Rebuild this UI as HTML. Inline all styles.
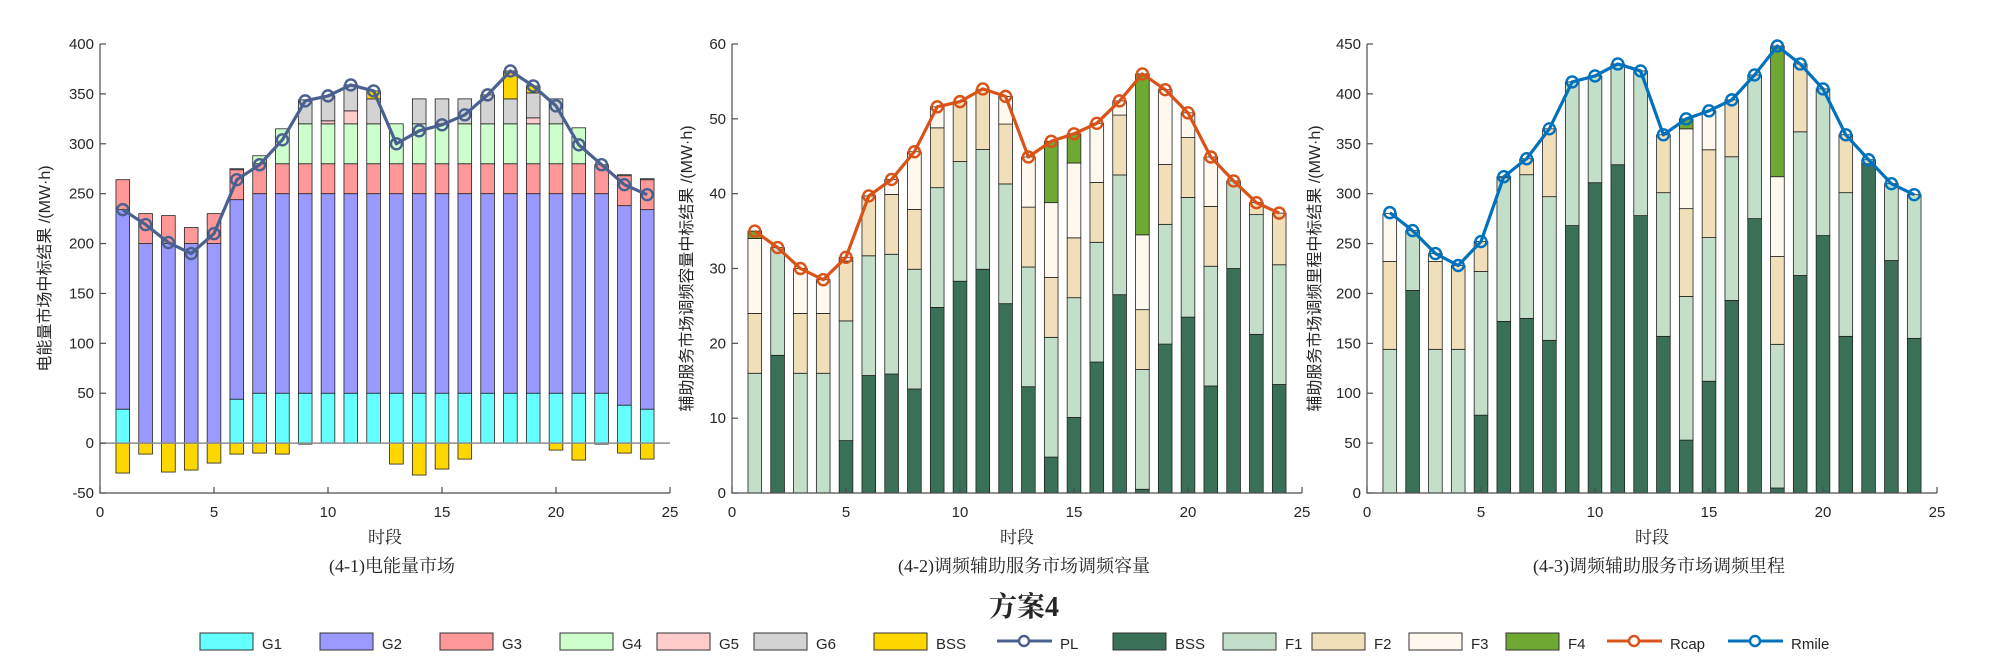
<!DOCTYPE html>
<html><head><meta charset="utf-8">
<style>
html,body{margin:0;padding:0;background:#fff;}
svg{display:block;}
.tk{font-family:"Liberation Sans","Noto Sans CJK SC",sans-serif;font-size:15px;fill:#262626;}
.yt{font-family:"Liberation Sans","Noto Sans CJK SC",sans-serif;font-size:16px;fill:#262626;}
.sr{font-family:"Liberation Serif","Noto Serif CJK SC",serif;fill:#262626;}
</style></head>
<body>
<svg id="fig" width="2008" height="657" viewBox="0 0 2008 657" xmlns="http://www.w3.org/2000/svg">
<text class="sr" x="1024" y="616" font-size="28" font-weight="bold" text-anchor="middle" fill="#000">方案4</text>
</svg>
<script>
// ---- Chart 1 data: energy market ----
const periods = [1,2,3,4,5,6,7,8,9,10,11,12,13,14,15,16,17,18,19,20,21,22,23,24];
const e_G1 = [34,0,0,0,0,44,50,50,50,50,50,50,50,50,50,50,50,50,50,50,50,50,38,34];
const e_G2 = [200,200,200,200,200,200,200,200,200,200,200,200,200,200,200,200,200,200,200,200,200,200,200,200];
const e_G3 = [30,30,28,16,30,30,30,30,30,30,30,30,30,30,30,30,30,30,30,30,30,29,30,30];
const e_G4 = [0,0,0,0,0,0,8,35,40,40,40,40,40,40,40,40,40,40,40,40,36,0,0,0];
const e_G5 = [0,0,0,0,0,0,0,0,0,3,13,0,0,0,0,0,0,0,6,0,0,0,0,0];
const e_G6 = [0,0,0,0,0,1,0,0,24,25,26,25,0,25,25,25,29,25,25,25,0,0,1,1];
const e_BSS = [-30,-11,-29,-27,-20,-11,-10,-11,-1,0,0,8,-21,-32,-26,-16,0,28,7,-7,-17,-1,-10,-16];
const e_PL = [234,219,201,190,210,264,279,304,343,348,359,353,300,313,319,329,349,373,358,338,299,279,259,249];
const e_yTicks = [-50,0,50,100,150,200,250,300,350,400];
// ---- Chart 2 data: regulation capacity ----
const c_BSS = [0,18.4,0,0,7,15.7,15.9,13.9,24.8,28.3,29.9,25.3,14.2,4.8,10.1,17.5,26.5,0.5,19.9,23.5,14.3,30,21.2,14.5];
const c_F1 = [16,14.4,16,16,16,16,16,16,16,16,16,16,16,16,16,16,16,16,16,16,16,11.7,16,16];
const c_F2 = [8,0,8,8,8,8,8,8,8,8,8,8,8,8,8,8,8,8,8,8,8,0,1.6,6.9];
const c_F3 = [10,0,6,4.5,0.5,0,2,7.7,2.8,0,0,3.7,6.7,10,10,7.9,1.9,10,10,3.3,6.6,0,0,0];
const c_F4 = [1,0,0,0,0,0,0,0,0,0,0,0,0,8.2,3.9,0,0,21.5,0,0,0,0,0,0];
const c_Rcap = [35,32.8,30,28.5,31.5,39.7,41.9,45.6,51.6,52.3,54,53,44.9,47,48,49.4,52.4,56,53.9,50.8,44.9,41.7,38.8,37.4];
const c_yTicks = [0,10,20,30,40,50,60];
// ---- Chart 3 data: regulation mileage ----
const m_BSS = [0,203,0,0,78,172,175,153,268,311,329,278,157,53,112,193,275,5,218,258,157,330,233,155];
const m_F1 = [144,60,144,144,144,144,144,144,144,107,101,145,144,144,144,144,144,144,144,147,144,4,77,144];
const m_F2 = [88,0,88,84,30,1,16,68,0,0,0,0,58,88,88,57,0,88,68,0,58,0,0,0];
const m_F3 = [48,0,8,0,0,0,0,0,0,0,0,0,0,80,39,0,0,80,0,0,0,0,0,0];
const m_F4 = [0,0,0,0,0,0,0,0,0,0,0,0,0,10,0,0,0,131,0,0,0,0,0,0];
const m_Rmile = [281,263,240,228,252,317,335,365,412,418,430,423,359,375,383,394,419,448,430,405,359,334,310,299];
const m_yTicks = [0,50,100,150,200,250,300,350,400,450];
const xTicks = [0,5,10,15,20,25];

const NS = "http://www.w3.org/2000/svg";
const svg = document.getElementById('fig');
function mk(tag, attrs, parent){const e=document.createElementNS(NS,tag);for(const k in attrs)e.setAttribute(k,attrs[k]);(parent||svg).appendChild(e);return e;}

const TOP=44, BOT=493, W=570;
function chart(cfg){
  const g = mk('g',{});
  
  
  const xs = v => cfg.x0 + v/25*W;
  const ys = v => BOT - (v-cfg.ymin)/(cfg.ymax-cfg.ymin)*(BOT-TOP);
  const bw = 0.6*W/25;
  // stacked bars
  periods.forEach((p,i)=>{
    let pos=0, neg=0;
    cfg.series.forEach(s=>{
      const v=s.data[i]; if(!v) return;
      let a,b;
      if(v>=0){a=pos;b=pos+v;pos=b;} else {a=neg;b=neg+v;neg=b;}
      const r = mk('rect',{x:xs(p)-bw/2,y:ys(Math.max(a,b)),width:bw,height:Math.abs(ys(a)-ys(b)),fill:s.color,stroke:'#222','stroke-width':0.8},g);
      
      
    });
  });
  // zero line for chart with negative values
  if(cfg.ymin<0){
    const zl = mk('line',{x1:cfg.x0,x2:cfg.x0+W,y1:ys(0),y2:ys(0),stroke:'#8c8c8c','stroke-width':1.5},g);
    
    
  }
  // axes
  const ax = mk('path',{d:`M${cfg.x0},${TOP} V${BOT} H${cfg.x0+W}`,stroke:'#4d4d4d','stroke-width':1.2,fill:'none'},g);
  
  
  cfg.yTicks.forEach(t=>{
    mk('line',{x1:cfg.x0,x2:cfg.x0+6,y1:ys(t),y2:ys(t),stroke:'#4d4d4d','stroke-width':1.2},g);
    const tx = mk('text',{x:cfg.x0-6,y:ys(t)+5,'text-anchor':'end',class:'tk'},g);
    tx.textContent=t;
    
    
  });
  xTicks.forEach(t=>{
    mk('line',{x1:xs(t),x2:xs(t),y1:BOT,y2:BOT-6,stroke:'#4d4d4d','stroke-width':1.2},g);
    const tx = mk('text',{x:xs(t),y:BOT+24,'text-anchor':'middle',class:'tk'},g);
    tx.textContent=t;
    
    
  });
  // line
  const pts = periods.map((p,i)=>xs(p)+','+ys(cfg.line[i])).join(' ');
  const pl = mk('polyline',{points:pts,fill:'none',stroke:cfg.lineColor,'stroke-width':3.2,'stroke-linejoin':'round'},g);
  
  
  periods.forEach((p,i)=>{
    const c = mk('circle',{cx:xs(p),cy:ys(cfg.line[i]),r:5.5,fill:'none',stroke:cfg.lineColor,'stroke-width':2.4},g);
    
    
  });
  // labels
  const yl = mk('text',{x:0,y:0,'text-anchor':'middle',class:'yt',transform:`translate(${cfg.ytx},${(TOP+BOT)/2}) rotate(-90)`},g);
  yl.textContent = cfg.ytitle;
  
  
  const xl = mk('text',{x:cfg.x0+W/2,y:543,'text-anchor':'middle',class:'sr','font-size':17},g);
  xl.textContent='时段';
  
  
  const st = mk('text',{x:cfg.x0+W/2+7,y:572,'text-anchor':'middle',class:'sr','font-size':18},g);
  st.textContent=cfg.sub;
  
  
}

chart({name:'energy-market-chart',x0:100,ymin:-50,ymax:400,yTicks:e_yTicks,
  series:[{key:'G1',data:e_G1,color:'#66ffff'},{key:'G2',data:e_G2,color:'#9999ff'},{key:'G3',data:e_G3,color:'#ff9999'},
          {key:'G4',data:e_G4,color:'#ccffcc'},{key:'G5',data:e_G5,color:'#ffcccc'},{key:'G6',data:e_G6,color:'#d3d3d3'},{key:'BSS',data:e_BSS,color:'#ffd700'}],
  line:e_PL,lineColor:'#4a6190',lineName:'pl',ytx:50,ytitle:'电能量市场中标结果 /(MW·h)',sub:'(4-1)电能量市场'});
chart({name:'capacity-chart',x0:732,ymin:0,ymax:60,yTicks:c_yTicks,
  series:[{key:'BSS',data:c_BSS,color:'#3a7058'},{key:'F1',data:c_F1,color:'#c3dfca'},{key:'F2',data:c_F2,color:'#f0dfb8'},{key:'F3',data:c_F3,color:'#fff8ee'},{key:'F4',data:c_F4,color:'#6fa832'}],
  line:c_Rcap,lineColor:'#d95319',lineName:'rcap',ytx:692,ytitle:'辅助服务市场调频容量中标结果 /(MW·h)',sub:'(4-2)调频辅助服务市场调频容量'});
chart({name:'mileage-chart',x0:1367,ymin:0,ymax:450,yTicks:m_yTicks,
  series:[{key:'BSS',data:m_BSS,color:'#3a7058'},{key:'F1',data:m_F1,color:'#c3dfca'},{key:'F2',data:m_F2,color:'#f0dfb8'},{key:'F3',data:m_F3,color:'#fff8ee'},{key:'F4',data:m_F4,color:'#6fa832'}],
  line:m_Rmile,lineColor:'#0072bd',lineName:'rmile',ytx:1320,ytitle:'辅助服务市场调频里程中标结果 /(MW·h)',sub:'(4-3)调频辅助服务市场调频里程'});

// legend
const legendLabels = ['G1','G2','G3','G4','G5','G6','BSS','PL','BSS','F1','F2','F3','F4','Rcap','Rmile'];
const legendColors = ['#66ffff','#9999ff','#ff9999','#ccffcc','#ffcccc','#d3d3d3','#ffd700','#4a6190','#3a7058','#c3dfca','#f0dfb8','#fff8ee','#6fa832','#d95319','#0072bd'];
const legendKinds = ['box','box','box','box','box','box','box','line','box','box','box','box','box','line','line'];
const legendX = [200,320,440,560,657,754,874,997,1113,1223,1312,1409,1506,1607,1728];
const lg = mk('g',{});


legendLabels.forEach((lab,i)=>{
  const it = mk('g',{},lg);
  
  
  const x = legendX[i];
  if(legendKinds[i]==='box'){
    mk('rect',{x:x,y:633,width:53,height:17,fill:legendColors[i],stroke:'#333','stroke-width':1},it);
  } else {
    mk('line',{x1:x,x2:x+55,y1:641,y2:641,stroke:legendColors[i],'stroke-width':3},it);
    mk('circle',{cx:x+27,cy:641,r:5,fill:'#fff',stroke:legendColors[i],'stroke-width':2.4},it);
  }
  const t = mk('text',{x:x+(legendKinds[i]==='box'?62:63),y:649,class:'tk'},it);
  t.textContent = lab;
});
</script>
</body></html>
